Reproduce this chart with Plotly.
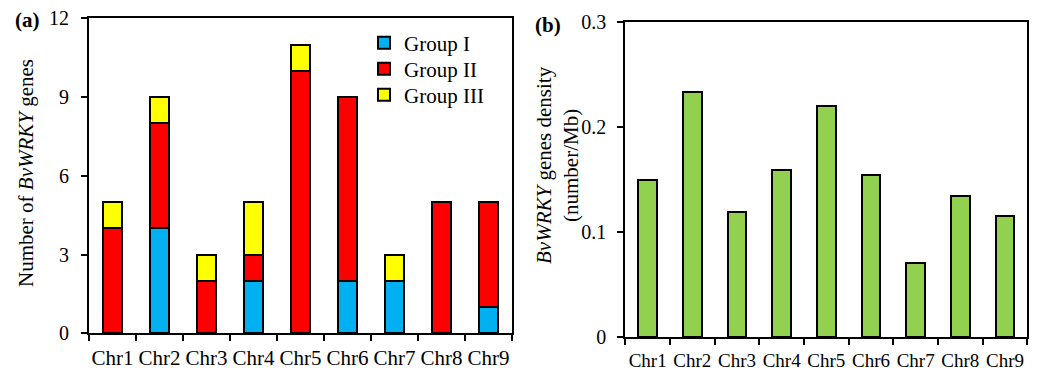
import plotly.graph_objects as go

chromosomes = ["Chr1", "Chr2", "Chr3", "Chr4", "Chr5", "Chr6", "Chr7", "Chr8", "Chr9"]
group_i = [0, 4, 0, 2, 0, 2, 2, 0, 1]
group_ii = [4, 4, 2, 1, 10, 7, 0, 5, 4]
group_iii = [1, 1, 1, 2, 1, 0, 1, 0, 0]
density = [0.150, 0.234, 0.119, 0.159, 0.220, 0.155, 0.071, 0.135, 0.116]

left_ticks = [0, 3, 6, 9, 12]
right_ticks = [0, 0.1, 0.2, 0.3]

W, H = 1049, 370
FONT = "Liberation Serif, Times New Roman, serif"
FS = 21

def px_x(p):
    return p / W

def px_y(p):
    return 1 - p / H

fig = go.Figure()
line = dict(color="black", width=2)
fig.add_trace(go.Bar(x=chromosomes, y=group_i, name="Group I", legend="legend",
                     marker=dict(color="#00B0F0", line=line), xaxis="x", yaxis="y"))
fig.add_trace(go.Bar(x=chromosomes, y=group_ii, name="Group II", legend="legend2",
                     marker=dict(color="#FF0000", line=line), xaxis="x", yaxis="y"))
fig.add_trace(go.Bar(x=chromosomes, y=group_iii, name="Group III", legend="legend3",
                     marker=dict(color="#FFFF00", line=line), xaxis="x", yaxis="y"))
fig.add_trace(go.Bar(x=chromosomes, y=density, name="density", showlegend=False,
                     marker=dict(color="#92D050", line=line), xaxis="x2", yaxis="y2"))

def axis_common(fs, standoff):
    return dict(showline=True, linecolor="black", linewidth=2, mirror=True,
                ticks="outside", ticklen=6, tickwidth=2, tickcolor="black",
                showgrid=False, zeroline=False, automargin=False,
                ticklabelstandoff=standoff,
                tickfont=dict(family=FONT, size=fs, color="black"))

def legend_at(row_center_px):
    return dict(x=px_x(364), y=px_y(row_center_px), xanchor="left", yanchor="middle",
                bgcolor="rgba(0,0,0,0)", borderwidth=0,
                font=dict(family=FONT, size=FS, color="black"))

fig.update_layout(
    width=W, height=H,
    margin=dict(l=0, r=0, t=0, b=0, autoexpand=False),
    paper_bgcolor="white", plot_bgcolor="white",
    barmode="stack", bargap=0.58,
    font=dict(family=FONT, size=FS, color="black"),
    xaxis=dict(domain=[px_x(89), px_x(512)], anchor="y", type="category",
               tickson="boundaries", tickangle=0, **axis_common(21, 4)),
    yaxis=dict(domain=[px_y(333.3), px_y(18.3)], anchor="x", range=[0, 12],
               tickvals=left_ticks, **axis_common(20, 8)),
    xaxis2=dict(domain=[px_x(625.3), px_x(1027.3)], anchor="y2", type="category",
                tickson="boundaries", tickangle=0, **axis_common(19, 5)),
    yaxis2=dict(domain=[px_y(337.3), px_y(22.3)], anchor="x2", range=[0, 0.3],
                tickvals=right_ticks, ticktext=["0", "0.1", "0.2", "0.3"],
                **axis_common(20, 7)),
    legend=legend_at(43),
    legend2=legend_at(69),
    legend3=legend_at(95),
    showlegend=True,
)

fig.add_annotation(text="Number of <i>BvWRKY</i> genes", textangle=-90,
                   x=px_x(26), y=px_y(173), xref="paper", yref="paper",
                   showarrow=False, xanchor="center", yanchor="middle",
                   font=dict(family=FONT, size=FS, color="black"))
fig.add_annotation(text="<i>BvWRKY</i> genes density<br>(number/Mb)", textangle=-90,
                   x=px_x(557), y=px_y(165), xref="paper", yref="paper",
                   showarrow=False, xanchor="center", yanchor="middle",
                   font=dict(family=FONT, size=FS, color="black"))
fig.add_annotation(text="<b>(a)</b>", x=px_x(13), y=px_y(20), xref="paper", yref="paper",
                   showarrow=False, xanchor="left", yanchor="middle",
                   font=dict(family=FONT, size=FS, color="black"))
fig.add_annotation(text="<b>(b)</b>", x=px_x(533), y=px_y(25), xref="paper", yref="paper",
                   showarrow=False, xanchor="left", yanchor="middle",
                   font=dict(family=FONT, size=FS, color="black"))

fig.write_html("out.html", config={"displayModeBar": False, "staticPlot": True})

# remove the browser's default 8px page margin so the figure sits at (0, 0)
with open("out.html", "r", encoding="utf-8") as f:
    html = f.read()
html = html.replace("<head>", "<head><style>html,body{margin:0;padding:0;overflow:hidden;}</style>", 1)
with open("out.html", "w", encoding="utf-8") as f:
    f.write(html)
